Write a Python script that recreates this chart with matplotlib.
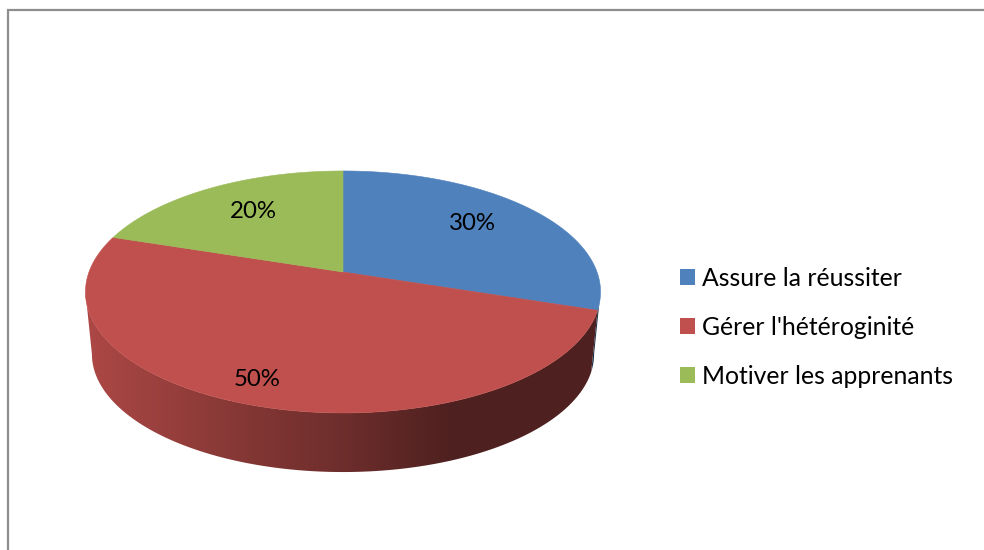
import numpy as np
import matplotlib
matplotlib.use("Agg")
import matplotlib.pyplot as plt
from matplotlib.patches import Patch, Polygon

plt.rcParams["font.family"] = ["Lato", "DejaVu Sans"]

# data
categories = ["Assure la réussiter", "Gérer l'hétéroginité", "Motiver les apprenants"]
values = [30, 50, 20]
colors = ["#4F81BD", "#C0504D", "#9BBB59"]
labels = ["30%", "50%", "20%"]

# shading of the pie rim, left to right
shade_x = [85, 250, 343, 450, 600]
shade_f = [0.90, 0.68, 0.57, 0.41, 0.41]

# geometry of the fake 3d pie, in pixels
CX, CY = 343, 272
RX, RY, K = 254, 117.7, 0.165
BOTTOM_CY, BOTTOM_SCALE = 334.6, 0.975


def project(theta, cy=CY, scale=1.0):
    w = 1 + K * np.sin(theta)
    return np.column_stack([
        CX + scale * RX * np.cos(theta) / w,
        cy - scale * RY * np.sin(theta) / w,
    ])


fig = plt.figure(figsize=(9.84, 5.5), dpi=100)
ax = fig.add_axes([0, 0, 1, 1])

edge = np.arcsin(K)
front_start, front_end = -np.pi + edge, -edge

total = sum(values)
shares = np.array(values) / total
stops = np.pi / 2 - 2 * np.pi * np.concatenate([[0], np.cumsum(shares)])

# rim first
gx = np.linspace(shade_x[0], shade_x[-1], 516)
factor = np.interp(gx, shade_x, shade_f)
for i, col in enumerate(colors):
    lo = max(stops[i + 1], front_start)
    hi = min(stops[i], front_end)
    if lo >= hi:
        continue
    t = np.linspace(lo, hi, 200)
    rim = np.vstack([project(t), project(t[::-1], BOTTOM_CY, BOTTOM_SCALE)])
    patch = Polygon(rim, closed=True, facecolor="none", edgecolor="none")
    ax.add_patch(patch)
    grad = factor[None, :, None] * np.array(matplotlib.colors.to_rgb(col))[None, None, :]
    im = ax.imshow(grad, extent=[gx[0], gx[-1], 480, 280], aspect="auto",
                   interpolation="bilinear", zorder=1)
    im.set_clip_path(patch)

# top face
for i, col in enumerate(colors):
    t = np.linspace(stops[i], stops[i + 1], 300)
    pts = np.vstack([[CX, CY], project(t)])
    ax.add_patch(Polygon(pts, closed=True, facecolor=col, edgecolor=col,
                         linewidth=0.4, zorder=2))

# percent labels
label_pos = [(472.5, 224), (257, 380), (253, 212)]
for txt, (x, y) in zip(labels, label_pos):
    ax.text(x, y, txt, fontsize=17.3, color="black", ha="center", va="center", zorder=3)

# chart frame, open on the right and bottom
ax.plot([7.5, 7.5, 984], [550, 10, 10], color="#8E8E8E", linewidth=1.6, zorder=3,
        solid_joinstyle="miter")

handles = [Patch(facecolor=c, edgecolor="none") for c in colors]
ax.legend(handles, categories, loc="center left", bbox_to_anchor=(672 / 984, 1 - 327.3 / 550),
          frameon=False, fontsize=17.8, labelcolor="black", handlelength=0.61,
          handleheight=0.61, handletextpad=0.30, labelspacing=1.05, borderpad=0,
          borderaxespad=0.32)

ax.set_xlim(0, 984)
ax.set_ylim(550, 0)
ax.axis("off")

fig.savefig("out.png", dpi=100)
